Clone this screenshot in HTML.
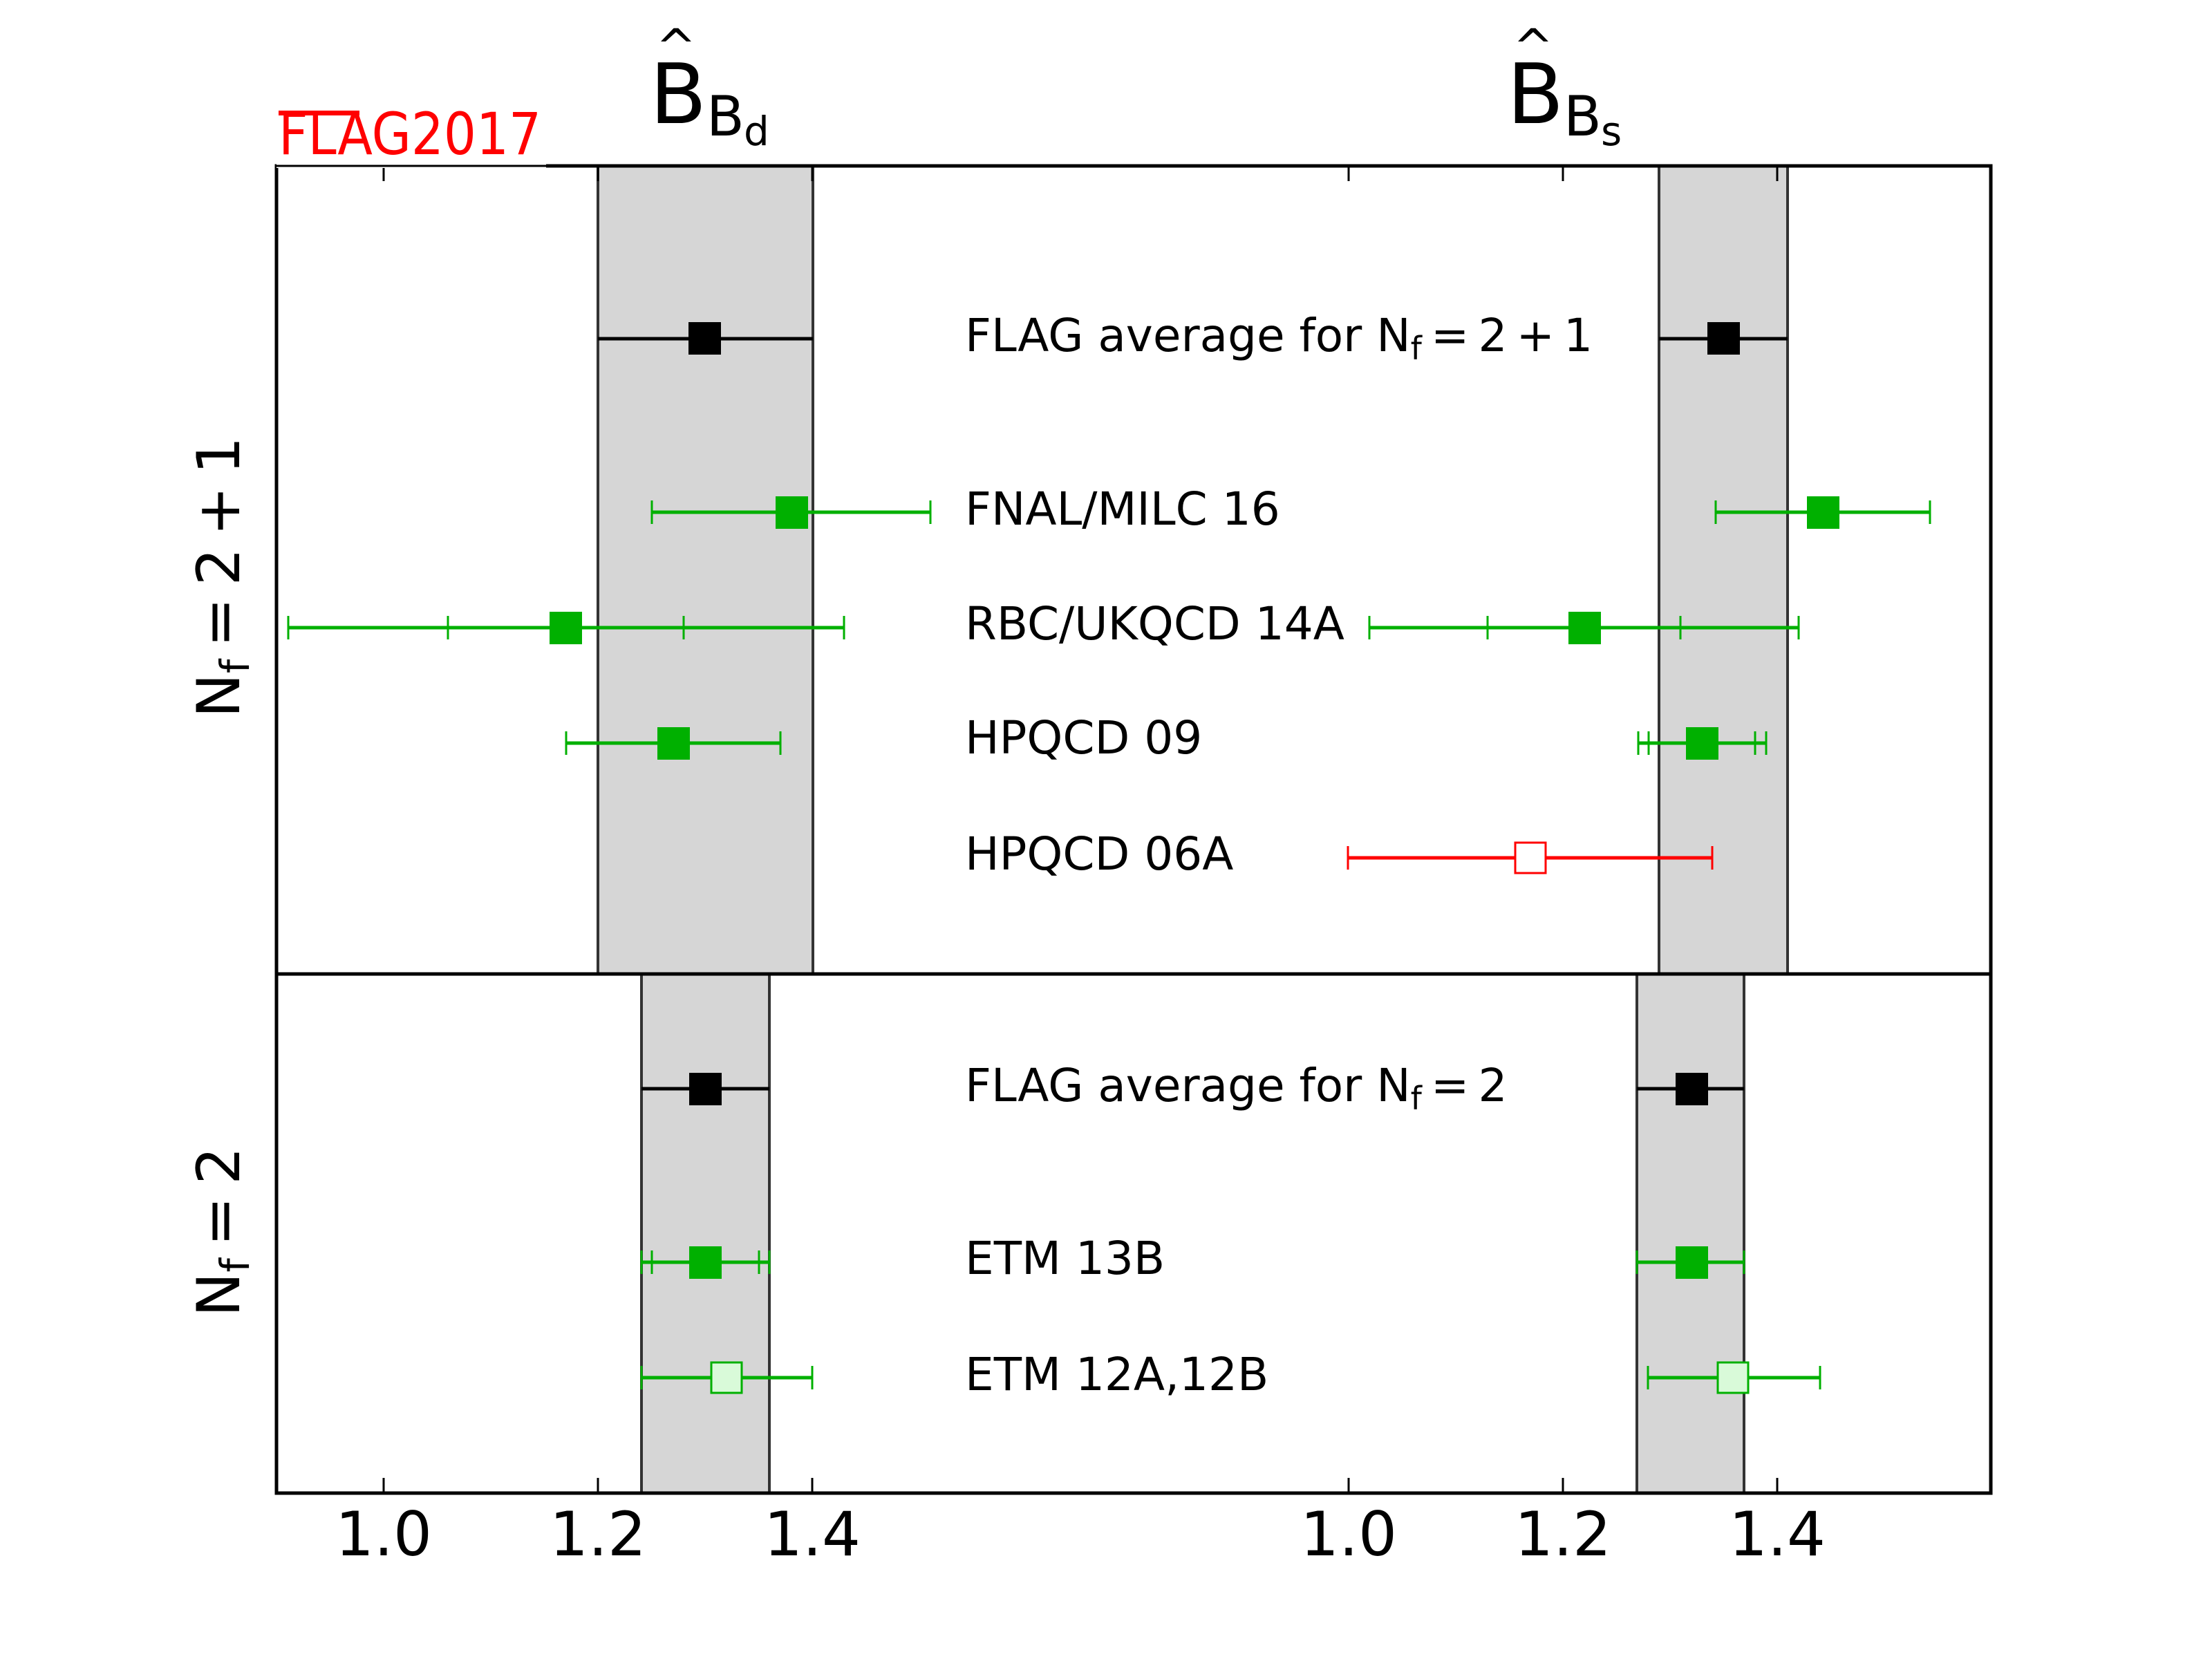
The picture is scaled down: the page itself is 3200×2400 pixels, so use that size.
<!DOCTYPE html>
<html><head><meta charset="utf-8"><style>
html,body{margin:0;padding:0;background:#fff;}
svg{display:block;}
text{font-family:"DejaVu Sans","Liberation Sans",sans-serif;}
</style></head><body>
<svg width="3200" height="2400" viewBox="0 0 3200 2400" xmlns="http://www.w3.org/2000/svg">
<rect width="3200" height="2400" fill="#fff"/>
<g fill="#d6d6d6" stroke="#333" stroke-width="4">
<rect x="865" y="240" width="311" height="1169"/>
<rect x="2400" y="240" width="186" height="1169"/>
<rect x="928" y="1409" width="185" height="751"/>
<rect x="2368" y="1409" width="155" height="751"/>
</g>
<g stroke="#000" stroke-width="5" fill="none">
<rect x="400" y="240" width="2480" height="1920"/>
<line x1="400" y1="1409" x2="2880" y2="1409"/>
</g>
<g stroke="#000" stroke-width="3">
<line x1="555" y1="240" x2="555" y2="262"/><line x1="865" y1="240" x2="865" y2="262"/><line x1="1175" y1="240" x2="1175" y2="262"/>
<line x1="1951" y1="240" x2="1951" y2="262"/><line x1="2261" y1="240" x2="2261" y2="262"/><line x1="2571" y1="240" x2="2571" y2="262"/>
<line x1="555" y1="2160" x2="555" y2="2138"/><line x1="865" y1="2160" x2="865" y2="2138"/><line x1="1175" y1="2160" x2="1175" y2="2138"/>
<line x1="1951" y1="2160" x2="1951" y2="2138"/><line x1="2261" y1="2160" x2="2261" y2="2138"/><line x1="2571" y1="2160" x2="2571" y2="2138"/>
</g>
<g font-size="88" text-anchor="middle" fill="#000">
<text x="555" y="2250">1.0</text><text x="865" y="2250">1.2</text><text x="1175" y="2250">1.4</text>
<text x="1951" y="2250">1.0</text><text x="2261" y="2250">1.2</text><text x="2571" y="2250">1.4</text>
</g>
<text x="403" y="223" font-size="84" fill="#f00" textLength="380" lengthAdjust="spacingAndGlyphs">FLAG2017</text>
<rect x="403" y="160" width="117" height="7" fill="#f00"/>
<rect x="400" y="237" width="390" height="6" fill="#fff"/>
<line x1="400" y1="240" x2="790" y2="240" stroke="#000" stroke-width="3"/>
<g fill="#000">
<text x="940" y="178" font-size="120">B</text>
<text x="978" y="92" font-size="70" text-anchor="middle">^</text>
<text x="1022" y="196" font-size="80">B</text>
<text x="1076" y="210" font-size="58">d</text>
<text x="2180" y="178" font-size="120">B</text>
<text x="2218" y="92" font-size="70" text-anchor="middle">^</text>
<text x="2262" y="196" font-size="80">B</text>
<text x="2316" y="210" font-size="58">s</text>
</g>
<g font-size="86" fill="#000" text-anchor="middle">
<text transform="translate(346,835) rotate(-90)">N<tspan font-size="58" dy="14">f</tspan><tspan dy="-14">&#8201;=&#8201;2&#8201;+&#8201;1</tspan></text>
<text transform="translate(346,1782) rotate(-90)">N<tspan font-size="58" dy="14">f</tspan><tspan dy="-14">&#8201;=&#8201;2</tspan></text>
</g>
<g font-size="66" fill="#000">
<text x="1396" y="508">FLAG average for N<tspan font-size="46" dy="12">f</tspan><tspan dy="-12">&#8201;=&#8201;2&#8201;+&#8201;1</tspan></text>
<text x="1396" y="759">FNAL/MILC 16</text>
<text x="1396" y="925">RBC/UKQCD 14A</text>
<text x="1396" y="1090">HPQCD 09</text>
<text x="1396" y="1258">HPQCD 06A</text>
<text x="1396" y="1593">FLAG average for N<tspan font-size="46" dy="12">f</tspan><tspan dy="-12">&#8201;=&#8201;2</tspan></text>
<text x="1396" y="1843">ETM 13B</text>
<text x="1396" y="2011">ETM 12A,12B</text>
</g>
<g stroke="#000" stroke-width="5">
<line x1="865" y1="490" x2="1176" y2="490"/><line x1="2400" y1="490" x2="2586" y2="490"/>
<line x1="928" y1="1575" x2="1113" y2="1575"/><line x1="2368" y1="1575" x2="2523" y2="1575"/>
</g>
<g fill="#000">
<rect x="996" y="466" width="47" height="47"/><rect x="2470" y="466" width="47" height="47"/>
<rect x="997" y="1552" width="47" height="47"/><rect x="2424" y="1552" width="47" height="47"/>
</g>
<g stroke="#00b000" stroke-width="5">
<line x1="943" y1="741" x2="1346" y2="741"/><line x1="2482" y1="741" x2="2792" y2="741"/>
<line x1="417" y1="908" x2="1221" y2="908"/><line x1="1981" y1="908" x2="2602" y2="908"/>
<line x1="819" y1="1075" x2="1129" y2="1075"/><line x1="2370" y1="1075" x2="2555" y2="1075"/>
<line x1="928" y1="1826" x2="1113" y2="1826"/><line x1="2368" y1="1826" x2="2523" y2="1826"/>
<line x1="928" y1="1993" x2="1175" y2="1993"/><line x1="2384" y1="1993" x2="2633" y2="1993"/>
</g>
<g stroke="#00b000" stroke-width="3">
<path d="M943 724v34M1346 724v34M2482 724v34M2792 724v34
M417 891v34M648 891v34M989 891v34M1221 891v34M1981 891v34M2152 891v34M2431 891v34M2602 891v34
M819 1058v34M1129 1058v34M2370 1058v34M2385 1058v34M2539 1058v34M2555 1058v34
M928 1809v34M943 1809v34M1098 1809v34M1113 1809v34M2368 1809v34M2523 1809v34
M928 1976v34M1175 1976v34M2384 1976v34M2633 1976v34"/>
</g>
<g fill="#00b000">
<rect x="1122" y="718" width="47" height="47"/><rect x="2614" y="718" width="47" height="47"/>
<rect x="795" y="885" width="47" height="47"/><rect x="2269" y="885" width="47" height="47"/>
<rect x="951" y="1052" width="47" height="47"/><rect x="2439" y="1052" width="47" height="47"/>
<rect x="997" y="1803" width="47" height="47"/><rect x="2424" y="1803" width="47" height="47"/>
</g>
<g fill="#d9fad9" stroke="#00b000" stroke-width="3">
<rect x="1029" y="1971" width="44" height="44"/><rect x="2485" y="1971" width="44" height="44"/>
</g>
<line x1="1950" y1="1241" x2="2477" y2="1241" stroke="#f00" stroke-width="5"/>
<path d="M1950 1224v34M2477 1224v34" stroke="#f00" stroke-width="3"/>
<rect x="2192" y="1219" width="44" height="44" fill="#fff" stroke="#f00" stroke-width="3"/>
</svg>
</body></html>
